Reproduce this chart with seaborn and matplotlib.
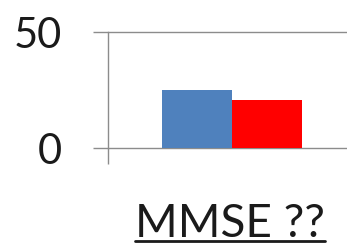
import matplotlib
matplotlib.use("Agg")
import matplotlib.pyplot as plt
import seaborn as sns
import pandas as pd
from matplotlib.lines import Line2D

# values
categories = ["MMSE ??"]
groups = ["A", "B"]
values = [25.0, 20.7]
bar_colors = ["#4f81bd", "#ff0000"]
y_ticks = [0, 50]

df = pd.DataFrame({
    "cat": [categories[0]] * len(groups),
    "group": groups,
    "value": values,
})

sns.set_style("white")
plt.rcParams["font.family"] = ["Lato", "DejaVu Sans"]

W, H = 347, 244
fig = plt.figure(figsize=(W / 100, H / 100), dpi=100)
ax = fig.add_axes([108 / W, 96 / H, 248 / W, 116 / H])

sns.barplot(data=df, x="cat", y="value", hue="group", palette=bar_colors,
            width=0.565, saturation=1, legend=False, linewidth=0, ax=ax, zorder=3)

ax.set_xlim(-0.5, 0.5)
ax.set_ylim(0, 50)
ax.set_yticks(y_ticks)
ax.set_yticklabels([str(t) for t in y_ticks], fontsize=30, color="#1a1a1a")
ax.set_xticks([-0.5])
ax.set_xticklabels([""])
ax.set_xlabel("")
ax.set_ylabel("")

grid_color = "#8c8c8c"
ax.grid(axis="y", color=grid_color, linewidth=1, zorder=0)
for gl in ax.yaxis.get_gridlines():
    gl.set_clip_on(False)
for side in ["top", "right", "bottom"]:
    ax.spines[side].set_visible(False)
ax.spines["left"].set_color(grid_color)
ax.spines["left"].set_linewidth(1)
ax.tick_params(axis="y", left=True, direction="out", length=11, width=1,
               color=grid_color, pad=22)
ax.tick_params(axis="x", bottom=True, direction="out", length=11.5, width=1,
               color=grid_color)

# underlined category title
label = fig.text(230 / W, 1 - 237 / H, categories[0], fontsize=33, ha="center",
                 va="baseline", color="#1a1a1a")
renderer = fig.canvas.get_renderer()
bb = label.get_window_extent(renderer=renderer)
uy = 1 - 241 / H
fig.add_artist(Line2D([bb.x0 / W, bb.x1 / W], [uy, uy], color="#1a1a1a",
                      linewidth=2, transform=fig.transFigure))

fig.savefig("out.png", dpi=100)
